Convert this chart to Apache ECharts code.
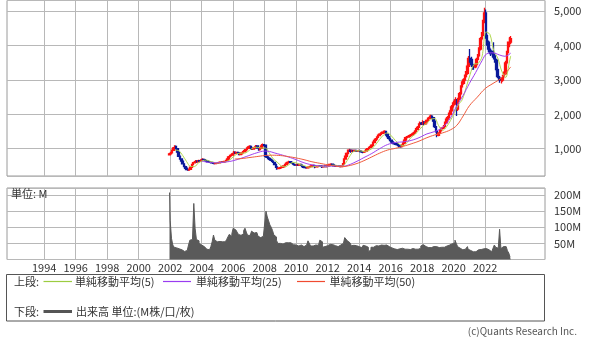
<!DOCTYPE html>
<html><head><meta charset="utf-8">
<script src="https://cdn.jsdelivr.net/npm/echarts@6/dist/echarts.min.js"></script>
<style>html,body{margin:0;padding:0;background:#fff}#c{width:600px;height:344px}</style>
</head><body><div id="c"></div>
<script>
// monthly candles from 2001-12 to 2023-08
const START_YEAR = 2001, START_MONTH = 12;
const firstOpen = 820;
const closes = [850,
880,950,1020,1070,1000,900,780,700,640,560,480,430,
390,380,400,460,540,590,600,640,620,650,640,670,
690,680,650,640,620,615,600,590,575,565,570,575,
590,600,610,605,615,630,660,700,760,790,810,850,
900,870,890,880,830,850,880,910,940,970,1010,1050,
1070,1010,990,1020,1050,1080,1020,970,1010,1080,1120,1100,
780,760,720,690,670,640,600,540,470,420,430,445,
460,470,500,540,580,600,620,600,580,550,530,520,
540,520,540,520,480,460,450,440,450,470,480,500,
510,500,470,480,490,500,490,470,480,490,480,490,
520,540,550,530,500,490,485,490,485,480,500,560,
700,780,860,940,960,920,950,930,950,940,930,945,
930,910,900,905,930,970,1000,1040,1060,1100,1180,1240,
1280,1330,1380,1420,1450,1460,1480,1500,1420,1350,1300,1250,
1200,1160,1150,1140,1120,1100,1080,1060,1100,1160,1250,1320,
1340,1360,1380,1400,1430,1450,1500,1560,1620,1700,1740,1720,
1780,1720,1760,1820,1880,1900,1950,1900,1800,1640,1500,1390,
1450,1520,1590,1600,1650,1750,1860,1900,2000,2100,2220,2300,
2380,2420,2150,2450,2600,2800,2900,3000,3100,3190,3400,3630,
3600,3450,3400,3380,3450,3600,3700,3900,4200,4300,4700,4950,
4300,4100,3900,3850,3800,3760,3700,3580,3300,3100,3050,3000,
3000,3100,3180,3500,3800,4060,4100,4200];
const highs = [880,
910,980,1050,1100,1090,1020,920,800,720,660,580,500,
450,410,420,480,560,610,640,670,660,680,670,690,
720,710,690,670,650,640,630,615,600,590,590,600,
610,620,630,625,635,650,680,720,790,820,840,880,
930,920,910,910,890,870,900,930,960,990,1040,1080,
1100,1090,1030,1040,1070,1110,1100,1040,1030,1100,1150,1140,
1120,820,790,750,720,700,670,620,560,490,460,470,
480,490,520,560,600,630,650,640,620,600,570,550,
560,560,555,550,530,495,475,465,470,490,500,520,
530,525,510,495,505,520,515,500,495,505,500,505,
535,560,570,560,540,510,500,505,500,495,520,580,
720,800,890,980,1000,980,970,960,970,970,960,970,
970,950,930,930,950,990,1020,1060,1090,1130,1210,1270,
1310,1360,1410,1450,1480,1500,1520,1540,1510,1440,1380,1320,
1270,1220,1190,1180,1170,1150,1130,1100,1130,1190,1280,1350,
1370,1390,1410,1430,1460,1490,1540,1600,1660,1740,1790,1780,
1830,1800,1790,1850,1910,1940,1990,1970,1920,1820,1660,1530,
1480,1550,1620,1640,1690,1790,1900,1950,2050,2150,2270,2350,
2430,2500,2450,2480,2650,2850,2960,3050,3160,3260,3450,3700,
3900,3680,3500,3450,3500,3650,3760,3950,4250,4400,4750,5100,
5050,4400,4150,3950,3900,3850,4100,3750,3620,3350,3150,3100,
3080,3150,3250,3560,3850,4120,4250,4280];
const lows = [800,
830,860,930,1000,980,880,760,680,620,540,460,410,
370,360,370,390,450,530,570,590,600,610,620,630,
650,660,640,620,600,595,585,570,560,550,550,555,
560,575,585,590,590,600,615,650,690,740,770,800,
830,850,850,860,810,810,830,860,890,920,950,990,
1020,990,960,970,1000,1030,1000,940,950,990,1060,1080,
740,730,690,670,640,610,580,520,440,390,400,415,
430,440,460,490,530,570,590,580,560,530,510,500,
505,510,505,510,470,445,435,420,425,440,460,470,
490,485,430,460,470,480,475,440,460,470,465,470,
480,505,525,520,490,470,470,475,470,465,470,490,
550,680,760,840,910,880,900,910,920,920,910,920,
900,890,870,880,890,920,960,990,1020,1040,1080,1160,
1220,1260,1310,1360,1400,1420,1430,1450,1380,1320,1270,1220,
1170,1130,1120,1110,1090,1070,1050,1030,1040,1080,1140,1230,
1300,1320,1340,1360,1380,1400,1420,1480,1540,1600,1680,1690,
1700,1690,1700,1740,1800,1850,1880,1880,1780,1600,1470,1330,
1360,1420,1490,1560,1580,1630,1730,1830,1880,1970,2080,2190,
2260,2340,1950,2100,2400,2560,2760,2860,2950,3060,3150,3380,
3500,3400,3300,3300,3340,3420,3560,3680,3860,4150,4250,4650,
4200,4000,3800,3750,3700,3650,3600,3500,3250,3050,2980,2920,
2900,2950,3050,3150,3450,3750,3950,4050];
// volume, millions
const volumes = [208,
122,66,45,38,40,36,33,35,30,28,25,22,
21,28,45,60,58,62,174,97,62,58,50,45,
45,40,36,35,32,31,30,40,55,76,60,55,
52,56,54,55,53,55,58,62,70,78,72,80,
97,92,94,85,78,75,72,80,90,97,85,75,
75,80,88,82,88,84,78,72,70,68,72,70,
70,150,132,120,107,100,90,76,70,60,50,52,
50,52,48,52,55,52,50,52,50,46,40,42,
45,44,42,45,43,40,42,45,46,58,60,42,
43,42,45,48,44,46,60,55,38,37,40,42,
43,45,47,48,46,44,43,42,40,42,45,50,
55,68,66,58,52,48,43,42,44,45,43,40,
38,37,40,44,46,42,38,24,30,38,40,38,
40,43,44,42,45,46,44,42,45,43,40,38,
36,32,34,33,32,31,32,33,34,35,33,32,
34,32,30,31,32,34,33,32,32,33,35,42,
46,44,40,40,38,37,38,37,36,40,40,38,
37,36,38,37,38,40,42,44,45,47,49,48,
52,60,50,40,35,33,30,31,32,38,40,32,
28,27,24,19,24,27,30,32,31,30,33,36,
38,34,30,27,24,26,35,45,38,35,36,94,
34,40,42,40,38,27,20,7];
// moving averages: [year, value]
const ma5 = [[2002.3,960],[2002.55,940],[2002.8,800],[2003.05,620],[2003.3,480],[2003.55,480],[2003.8,590],[2004.05,650],[2004.3,670],[2004.55,630],[2004.8,600],[2005.05,580],[2005.3,600],[2005.55,620],[2005.8,680],[2006.05,780],[2006.3,860],[2006.55,870],[2006.8,880],[2007.05,960],[2007.3,1030],[2007.55,1040],[2007.8,1020],[2008.05,1020],[2008.3,870],[2008.55,700],[2008.8,610],[2009.05,500],[2009.3,470],[2009.55,540],[2009.8,600],[2010.05,580],[2010.3,530],[2010.55,500],[2010.8,460],[2011.05,470],[2011.3,490],[2011.55,490],[2011.8,480],[2012.05,490],[2012.3,520],[2012.55,515],[2012.8,490],[2013.05,530],[2013.3,700],[2013.55,880],[2013.8,940],[2014.05,940],[2014.3,920],[2014.55,940],[2014.8,1000],[2015.05,1120],[2015.3,1270],[2015.55,1400],[2015.8,1460],[2016.05,1370],[2016.3,1240],[2016.55,1130],[2016.8,1090],[2017.05,1180],[2017.3,1330],[2017.55,1420],[2017.8,1540],[2018.05,1660],[2018.3,1750],[2018.55,1850],[2018.8,1880],[2019.05,1670],[2019.3,1530],[2019.55,1640],[2019.8,1820],[2020.05,2050],[2020.3,2280],[2020.55,2430],[2020.8,2790],[2021.05,3170],[2021.3,3460],[2021.55,3480],[2021.8,3680],[2022.05,4400],[2022.3,4330],[2022.55,3850],[2022.8,3640],[2023.05,3260],[2023.3,3070],[2023.55,3550],[2023.62,3700]];
const ma25 = [[2004.0,640],[2004.5,600],[2005.0,590],[2005.5,610],[2006.0,650],[2006.5,720],[2007.0,800],[2007.5,880],[2008.0,930],[2008.3,920],[2008.6,880],[2009.0,830],[2009.5,760],[2010.0,680],[2010.5,590],[2011.0,530],[2011.5,500],[2012.0,490],[2012.5,495],[2013.0,490],[2013.3,520],[2013.8,620],[2014.3,740],[2014.8,860],[2015.3,1000],[2015.8,1120],[2016.3,1180],[2016.8,1200],[2017.3,1240],[2017.8,1320],[2018.3,1430],[2018.8,1500],[2019.3,1620],[2019.8,1900],[2020.2,2250],[2020.6,2550],[2021.0,2900],[2021.4,3220],[2021.8,3560],[2022.1,3760],[2022.5,3790],[2022.9,3730],[2023.25,3690],[2023.62,3780]];
const ma50 = [[2006.1,700],[2006.5,710],[2007.0,740],[2007.5,770],[2008.0,800],[2008.5,810],[2009.0,800],[2009.5,770],[2010.0,730],[2010.5,680],[2011.0,620],[2011.5,575],[2012.0,530],[2012.5,495],[2012.9,475],[2013.3,500],[2013.8,560],[2014.3,650],[2014.8,760],[2015.3,870],[2015.8,960],[2016.3,1010],[2016.8,1070],[2017.3,1140],[2017.8,1220],[2018.3,1320],[2018.8,1400],[2019.3,1460],[2019.8,1550],[2020.2,1680],[2020.6,1950],[2021.0,2250],[2021.5,2500],[2022.0,2750],[2022.5,2900],[2023.0,3050],[2023.62,3380]];
const yearTicks = {min: 1994, max: 2022, step: 2};
const legendNames = ['単純移動平均(5)', '単純移動平均(25)', '単純移動平均(50)'];
const volumeName = '出来高 単位:(M株/口/枚)';

const monthX = i => START_YEAR + (START_MONTH - 1 + i) / 12 + 1 / 24;
const candles = closes.map((c, i) => {
  const o = i === 0 ? firstOpen : closes[i - 1];
  return [monthX(i), o, c, Math.min(lows[i], o, c), Math.max(highs[i], o, c)];
});
const vol = volumes.map((v, i) => [monthX(i), v]);

const FONT = '"Noto Sans CJK JP", "Noto Sans", sans-serif';
const XMIN = 1991.64, XMAX = 2025.8;
const GRIDC = '#b8b8b8';
const hiddenX = gi => ({type: 'value', gridIndex: gi, min: XMIN, max: XMAX, show: false, splitLine: {show: false}});
const yearAxis = (gi, labels) => ({type: 'value', gridIndex: gi, min: yearTicks.min, max: yearTicks.max, interval: yearTicks.step,
  axisLine: {show: false}, axisTick: {show: false},
  splitLine: {show: true, lineStyle: {color: GRIDC, width: 1}},
  axisLabel: {show: labels, margin: 3, color: '#333', fontSize: 11, fontFamily: FONT, formatter: v => String(v)}});
const blankY = gi => ({type: 'value', gridIndex: gi, min: 0, max: 1, show: false, splitLine: {show: false}});

const chart = echarts.init(document.getElementById('c'));
chart.setOption({
  animation: false,
  backgroundColor: '#fff',
  grid: [
    {left: 7, right: 55, top: 0.5, height: 175.5, show: true, borderColor: '#9a9a9a', borderWidth: 1, backgroundColor: 'transparent'},
    {left: 44.2, right: 114.8, top: 0.5, height: 175.5},
    {left: 7, right: 55, top: 188, height: 71.5, show: true, borderColor: '#9a9a9a', borderWidth: 1, backgroundColor: 'transparent'},
    {left: 44.2, right: 114.8, top: 188, height: 71.5}
  ],
  xAxis: [hiddenX(0), yearAxis(1, false), hiddenX(2), yearAxis(3, true)],
  yAxis: [
    {type: 'value', gridIndex: 0, position: 'right', min: 205, max: 5314, splitNumber: 5,
      axisLine: {show: false}, axisTick: {show: false},
      splitLine: {lineStyle: {color: GRIDC}},
      axisLabel: {margin: 9, color: '#333', fontSize: 11, fontFamily: FONT, showMinLabel: false, showMaxLabel: false,
        formatter: v => v.toLocaleString('en-US')}},
    blankY(1),
    {type: 'value', gridIndex: 2, position: 'right', min: 0, max: 222, splitNumber: 4,
      axisLine: {show: false}, axisTick: {show: false},
      splitLine: {lineStyle: {color: GRIDC}},
      axisLabel: {margin: 9, color: '#333', fontSize: 11, fontFamily: FONT, showMinLabel: false, showMaxLabel: false,
        formatter: v => v + 'M'}},
    blankY(3)
  ],
  series: [
    {type: 'candlestick', xAxisIndex: 0, yAxisIndex: 0, data: candles, encode: {x: 0, y: [1, 2, 3, 4]},
      barWidth: 2, z: 3,
      itemStyle: {color: '#ff1010', color0: '#0a1a9a', borderColor: '#ff1010', borderColor0: '#0a1a9a', borderWidth: 1.3}},
    {type: 'line', name: legendNames[0], xAxisIndex: 0, yAxisIndex: 0, data: ma5, symbol: 'none', smooth: 0.3, z: 4,
      lineStyle: {color: '#b0d850', width: 1}},
    {type: 'line', name: legendNames[1], xAxisIndex: 0, yAxisIndex: 0, data: ma25, symbol: 'none', smooth: 0.4, z: 5,
      lineStyle: {color: '#a040f0', width: 1}},
    {type: 'line', name: legendNames[2], xAxisIndex: 0, yAxisIndex: 0, data: ma50, symbol: 'none', smooth: 0.4, z: 5,
      lineStyle: {color: '#f05a3c', width: 1}},
    {type: 'line', name: volumeName, xAxisIndex: 2, yAxisIndex: 2, data: vol, step: 'middle', symbol: 'none', z: 3,
      lineStyle: {color: '#5a5a5a', width: 1}, areaStyle: {color: '#5a5a5a', opacity: 1}}
  ],
  graphic: [
    {type: 'text', x: 11, y: 194, style: {text: '単位: M', font: '11px ' + FONT, fill: '#333', textVerticalAlign: 'middle'}, z: 10},
    {type: 'rect', shape: {x: 6.5, y: 274.5, width: 538, height: 46.5}, style: {fill: '#fff', stroke: '#555', lineWidth: 1}},
    {type: 'text', x: 14, y: 281.5, style: {text: '上段:', font: '11px ' + FONT, fill: '#333', textVerticalAlign: 'middle'}},
    {type: 'line', shape: {x1: 43.5, y1: 281.5, x2: 72, y2: 281.5}, style: {stroke: '#9ccc40', lineWidth: 1.2}},
    {type: 'text', x: 75, y: 281.5, style: {text: legendNames[0], font: '11px ' + FONT, fill: '#333', textVerticalAlign: 'middle'}},
    {type: 'line', shape: {x1: 163, y1: 281.5, x2: 191, y2: 281.5}, style: {stroke: '#9a3cf0', lineWidth: 1.2}},
    {type: 'text', x: 196, y: 281.5, style: {text: legendNames[1], font: '11px ' + FONT, fill: '#333', textVerticalAlign: 'middle'}},
    {type: 'line', shape: {x1: 297, y1: 281.5, x2: 325, y2: 281.5}, style: {stroke: '#f04a30', lineWidth: 1.2}},
    {type: 'text', x: 329.5, y: 281.5, style: {text: legendNames[2], font: '11px ' + FONT, fill: '#333', textVerticalAlign: 'middle'}},
    {type: 'text', x: 14, y: 311.5, style: {text: '下段:', font: '11px ' + FONT, fill: '#333', textVerticalAlign: 'middle'}},
    {type: 'line', shape: {x1: 43.5, y1: 311.5, x2: 72, y2: 311.5}, style: {stroke: '#555', lineWidth: 3}},
    {type: 'text', x: 76, y: 311.5, style: {text: volumeName, font: '11px ' + FONT, fill: '#333', textVerticalAlign: 'middle'}},
    {type: 'text', x: 577, y: 331.5, style: {text: '(c)Quants Research Inc.', font: '10px ' + FONT, fill: '#555', textAlign: 'right', textVerticalAlign: 'middle'}}
  ]
});
</script></body></html>
